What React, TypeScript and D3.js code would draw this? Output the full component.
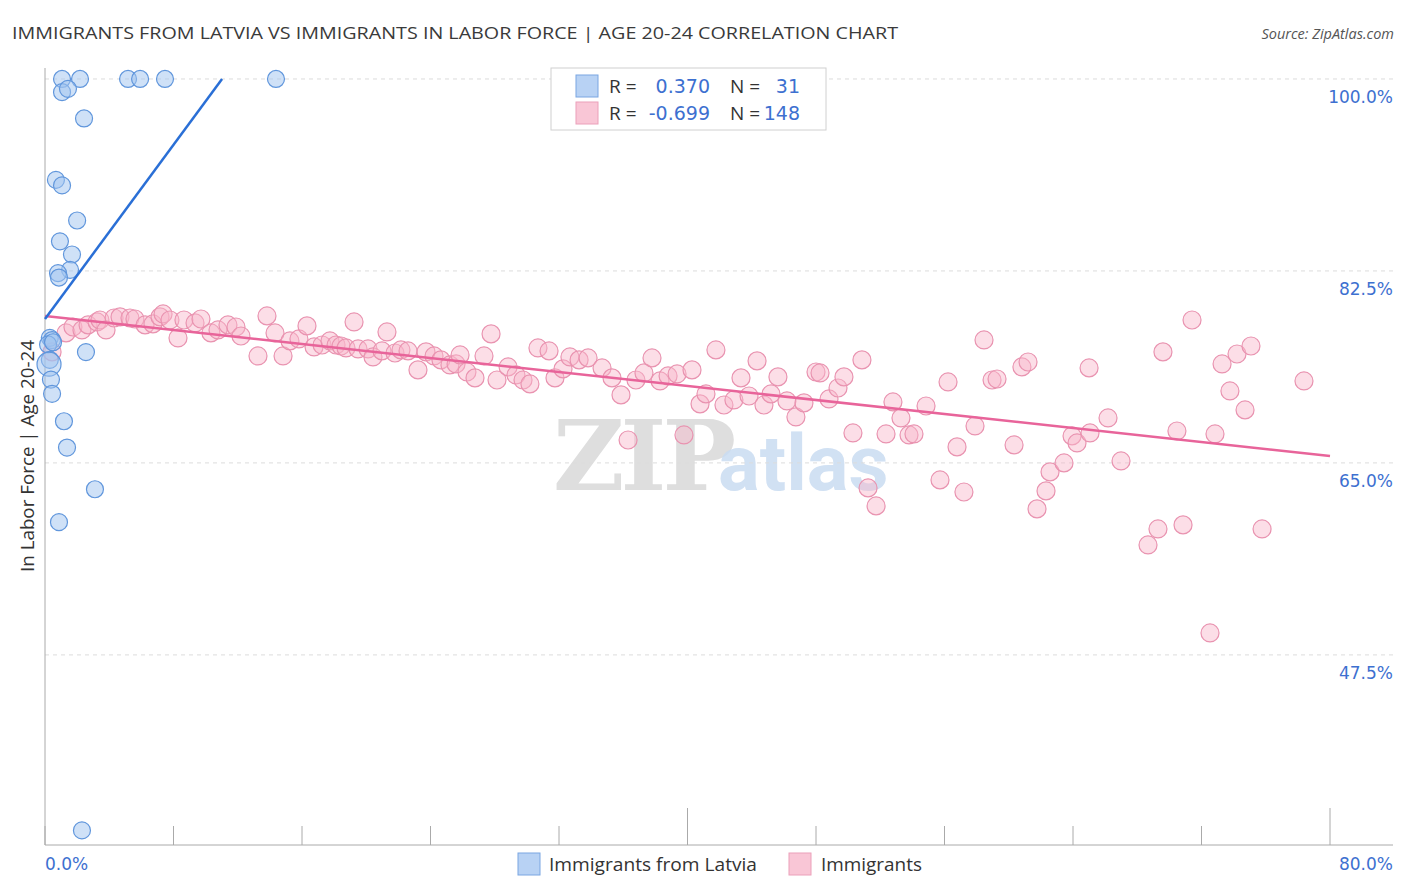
import React from 'react';
import * as d3 from 'd3';

// Immigrants from Latvia: [x %, in labor force %]
const latvia: [number, number][] = [
  [1.06, 100], [2.18, 100], [5.17, 100], [5.92, 100], [7.47, 100], [14.38, 100],
  [1.06, 98.8], [1.43, 99.1], [2.43, 96.4], [0.68, 90.8], [1.06, 90.3], [2.0, 87.1],
  [0.93, 85.2], [1.68, 84.0], [1.56, 82.6], [0.81, 82.3], [0.87, 81.9], [2.55, 75.1],
  [0.3, 76.4], [0.44, 76.2], [0.19, 75.8], [0.5, 76.0], [0.3, 74.4], [0.25, 74.0],
  [0.37, 72.6], [0.44, 71.3], [1.18, 68.8], [1.37, 66.4], [3.11, 62.6], [0.87, 59.6],
  [2.3, 31.5],
];

// Immigrants
const immigrants: [number, number][] = [
  [1.31, 76.85], [1.74, 77.39], [2.3, 77.12], [2.68, 77.58], [3.24, 77.85], [3.42, 78.03],
  [3.8, 77.12], [4.3, 78.21], [4.67, 78.31], [5.29, 78.21], [5.6, 78.12], [6.23, 77.58],
  [6.72, 77.67], [7.16, 78.31], [7.35, 78.58], [7.78, 78.03], [8.28, 76.39], [8.65, 78.03],
  [9.34, 77.76], [9.71, 78.12], [10.33, 76.85], [10.77, 77.12], [11.39, 77.58], [11.89, 77.39],
  [12.2, 76.57], [13.26, 74.75], [13.82, 78.4], [14.32, 76.85], [14.82, 74.75], [15.25, 76.12],
  [15.81, 76.3], [16.31, 77.49], [16.75, 75.57], [17.25, 75.75], [17.74, 76.12], [18.12, 75.75],
  [18.43, 75.66], [18.74, 75.48], [19.24, 77.85], [19.49, 75.39], [20.11, 75.39], [20.42, 74.66],
  [20.98, 75.21], [21.29, 76.94], [21.79, 75.02], [22.16, 75.3], [22.6, 75.21], [23.22, 73.48],
  [23.72, 75.12], [24.22, 74.75], [24.65, 74.39], [25.21, 73.93], [25.59, 74.02], [25.84, 74.84],
  [26.27, 73.29], [26.77, 72.75], [27.33, 74.75], [27.77, 76.76], [28.14, 72.56], [28.83, 73.75],
  [29.32, 73.02], [29.76, 72.56], [30.19, 72.2], [30.69, 75.48], [31.38, 75.21], [31.75, 72.75],
  [32.25, 73.57], [32.68, 74.66], [33.25, 74.39], [33.81, 74.57], [34.68, 73.66], [35.3, 72.75],
  [35.86, 71.2], [36.3, 67.09], [36.79, 72.56], [37.29, 73.2], [37.79, 74.57], [38.29, 72.47],
  [38.79, 72.93], [39.35, 73.11], [39.78, 67.55], [40.28, 73.48], [40.78, 70.38], [41.15, 71.29],
  [41.77, 75.3], [42.27, 70.28], [42.89, 70.74], [43.33, 72.75], [43.83, 71.1], [44.33, 74.3],
  [44.76, 70.28], [45.2, 71.29], [45.63, 72.84], [46.19, 70.65], [46.75, 69.19], [47.25, 70.47],
  [48.0, 73.29], [48.25, 73.2], [48.81, 70.83], [49.37, 71.83], [49.74, 72.84], [50.3, 67.73],
  [50.86, 74.39], [51.24, 62.72], [51.74, 61.08], [52.36, 67.64], [52.79, 70.56], [53.29, 69.1],
  [53.79, 67.55], [54.1, 67.64], [54.85, 70.19], [55.72, 63.45], [56.22, 72.38], [56.78, 66.46],
  [57.21, 62.35], [57.9, 68.37], [58.46, 76.21], [58.96, 72.56], [59.27, 72.65], [60.33, 66.64],
  [60.82, 73.75], [61.2, 74.2], [61.76, 60.81], [62.32, 62.45], [62.57, 64.18], [63.44, 65.0],
  [63.94, 67.46], [64.25, 66.82], [65.06, 67.73], [65.0, 73.66], [66.18, 69.1], [66.99, 65.18],
  [68.67, 57.52], [69.29, 58.98], [69.6, 75.12], [70.85, 59.35], [70.47, 67.91], [71.41, 78.03],
  [72.53, 49.5], [72.84, 67.64], [73.28, 74.02], [73.77, 71.56], [74.21, 74.93], [74.71, 69.83],
  [75.08, 75.66], [75.77, 58.98], [78.38, 72.47], [0.44, 75.12],
];

// trend lines: [intercept at x=0, slope per x %]
const latviaTrend: [number, number] = [78.12, 1.985];
const immigrantsTrend: [number, number] = [78.4, -0.1597];

const yTicks = [100, 82.5, 65, 47.5];
const xTicks = [0, 8, 16, 24, 32, 40, 48, 56, 64, 72, 80];

const W = 1406;
const H = 892;
const left = 45;
const right = 1330;
const top = 68;
const bottom = 845;
const gridEnd = 1393;

const BLUE_FILL = 'rgba(160,196,240,0.5)';
const BLUE_STROKE = '#6096dc';
const PINK_FILL = 'rgba(248,182,202,0.45)';
const PINK_STROKE = '#e993b0';
const LABEL_BLUE = '#3d70d0';
const FONT = '"Open Sans", Roboto, "Noto Sans", sans-serif';
const NUM_FONT = '"DejaVu Sans", "Open Sans", sans-serif';

export default function App() {
  const x = d3.scaleLinear().domain([0, 80]).range([left, right]);
  const y = d3.scaleLinear().domain([30.17, 101]).range([bottom, top]);

  const line = d3.line<[number, number]>().x(d => x(d[0])).y(d => y(d[1]));
  const blueEndX = (100 - latviaTrend[0]) / latviaTrend[1];
  const blueLine: [number, number][] = [[0, latviaTrend[0]], [blueEndX, 100]];
  const pinkLine: [number, number][] = [[0, immigrantsTrend[0]], [80, immigrantsTrend[0] + 80 * immigrantsTrend[1]]];

  return (
    <svg width={W} height={H} style={{ position: 'absolute', left: 0, top: 0, background: '#fff' }} fontFamily={FONT}>
      <rect width={W} height={H} fill="#fff" />
      <text x={12} y={39} fontSize={17} fill="#3a3a3a" textLength={886} lengthAdjust="spacingAndGlyphs">
        IMMIGRANTS FROM LATVIA VS IMMIGRANTS IN LABOR FORCE | AGE 20-24 CORRELATION CHART
      </text>
      <text x={1394} y={39} fontSize={14.5} fill="#555" fontStyle="italic" textAnchor="end">
        Source: ZipAtlas.com
      </text>

      {/* watermark */}
      <text x={553} y={490} fontSize={98} fontFamily='"DejaVu Serif", "Liberation Serif", serif' fontWeight="bold" fill="#d6d6d6" opacity={0.8} letterSpacing={-4}>
        ZIP
      </text>
      <text x={718} y={490} fontSize={78} fontFamily='Roboto, sans-serif' fontWeight="bold" fill="#c9dcf2" opacity={0.85}>
        atlas
      </text>

      {/* grid */}
      {yTicks.map(t => (
        <g key={t}>
          <line x1={left} x2={gridEnd} y1={y(t)} y2={y(t)} stroke="#dcdcdc" strokeDasharray="4,4" />
          <text x={gridEnd} y={y(t) + 24} fontSize={17} fontFamily={NUM_FONT} fill={LABEL_BLUE} textAnchor="end">
            {t.toFixed(1)}%
          </text>
        </g>
      ))}

      {/* axes */}
      <line x1={left} x2={left} y1={top} y2={bottom} stroke="#aaa" />
      <line x1={left} x2={gridEnd} y1={bottom} y2={bottom} stroke="#aaa" />
      {xTicks.map(t => (
        <line key={t} x1={x(t)} x2={x(t)} y1={bottom} y2={t === 40 || t === 80 ? bottom - 37 : bottom - 19} stroke="#aaa" />
      ))}
      <text x={left} y={870} fontSize={17} fontFamily={NUM_FONT} fill={LABEL_BLUE}>0.0%</text>
      <text x={gridEnd} y={870} fontSize={17} fontFamily={NUM_FONT} fill={LABEL_BLUE} textAnchor="end">80.0%</text>

      <text transform="translate(34,456) rotate(-90)" fontSize={18} fill="#333" textAnchor="middle" textLength={232} lengthAdjust="spacingAndGlyphs">
        In Labor Force | Age 20-24
      </text>

      {/* points */}
      {immigrants.map((d, i) => (
        <circle key={'p' + i} cx={x(d[0])} cy={y(d[1])} r={9} fill={PINK_FILL} stroke={PINK_STROKE} strokeWidth={1.2} />
      ))}
      {latvia.map((d, i) => (
        <circle key={'b' + i} cx={x(d[0])} cy={y(d[1])} r={i === 23 ? 12 : 8.5} fill={BLUE_FILL} stroke={BLUE_STROKE} strokeWidth={1.2} />
      ))}

      <path d={line(pinkLine) || ''} stroke="#e8649a" strokeWidth={2.5} fill="none" />
      <path d={line(blueLine) || ''} stroke="#2a6fd6" strokeWidth={2.5} fill="none" />

      {/* legend box */}
      <rect x={551} y={68} width={275} height={62} fill="#fff" stroke="#d0d0d0" />
      <rect x={576} y={75} width={22} height={22} fill="#b8d2f4" stroke="#7aa6e2" />
      <rect x={576} y={102} width={22} height={22} fill="#f9c6d6" stroke="#eba0ba" />
      <g fontSize={19}>
        <text x={609} y={93} fill="#333">R =</text>
        <text x={710} y={93} fontFamily={NUM_FONT} fill={LABEL_BLUE} textAnchor="end">0.370</text>
        <text x={730} y={93} fill="#333">N =</text>
        <text x={800} y={93} fontFamily={NUM_FONT} fill={LABEL_BLUE} textAnchor="end">31</text>
        <text x={609} y={120} fill="#333">R =</text>
        <text x={710} y={120} fontFamily={NUM_FONT} fill={LABEL_BLUE} textAnchor="end">-0.699</text>
        <text x={730} y={120} fill="#333">N =</text>
        <text x={800} y={120} fontFamily={NUM_FONT} fill={LABEL_BLUE} textAnchor="end">148</text>
      </g>

      {/* bottom legend */}
      <rect x={518} y={853} width={22} height={22} fill="#b8d2f4" stroke="#7aa6e2" />
      <text x={549} y={871} fontSize={18} fill="#333" textLength={208} lengthAdjust="spacingAndGlyphs">Immigrants from Latvia</text>
      <rect x={789} y={853} width={22} height={22} fill="#f9c6d6" stroke="#eba0ba" />
      <text x={821} y={871} fontSize={18} fill="#333" textLength={101} lengthAdjust="spacingAndGlyphs">Immigrants</text>
    </svg>
  );
}
